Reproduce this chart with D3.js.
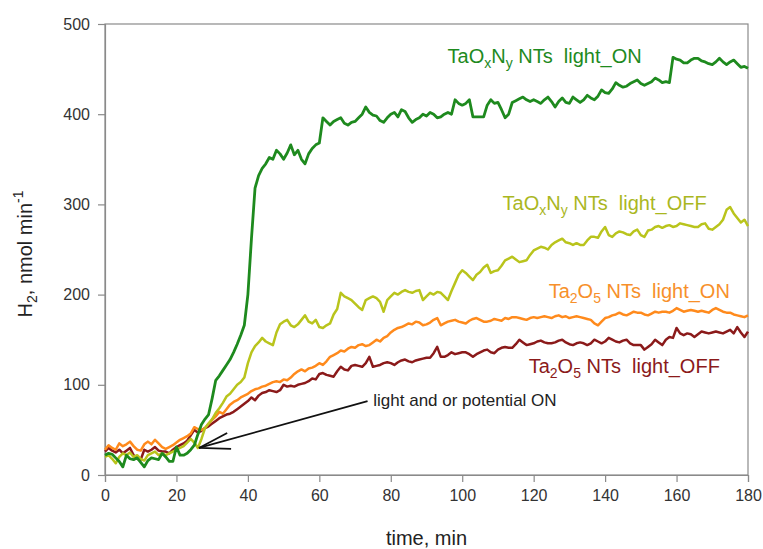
<!DOCTYPE html>
<html>
<head>
<meta charset="utf-8">
<script src="https://d3js.org/d3.v7.min.js"></script>
<style>
  body { margin: 0; background: #fff; }
  text { font-family: Arial, "Liberation Sans", sans-serif; }
</style>
</head>
<body>
<svg id="chart" width="763" height="549"></svg>
<script>
// time axis, one reading per minute
const minutes = d3.range(0, 181);

const xTicks = [0, 20, 40, 60, 80, 100, 120, 140, 160, 180];
const yTicks = [0, 100, 200, 300, 400, 500];

// TaOxNy NTs light_ON
const taoxnyOn = [
  22,24,23,19,15,9,22,18,17,19,
  14,9,16,19,18,17,24,20,15,15,
  31,22,22,24,28,33,45,56,62,67,
  85,105,110,116,122,128,136,145,155,166,
  200,262,318,332,340,345,352,350,360,356,
  350,357,366,355,360,350,345,356,362,366,
  368,396,392,388,392,394,396,390,388,391,
  392,396,400,408,402,399,398,393,391,396,
  400,402,397,405,403,396,391,394,396,400,
  398,402,400,396,397,400,402,400,416,412,
  410,412,416,397,397,397,397,410,416,412,
  413,405,396,400,413,415,417,419,416,414,
  416,414,412,416,419,414,408,414,418,413,
  412,419,416,413,416,421,418,416,420,427,
  424,423,428,435,432,430,431,434,436,438,
  434,432,434,436,440,438,435,436,435,463,
  461,460,457,457,460,462,462,459,458,456,
  455,458,462,458,455,458,460,456,452,453,451
];

// TaOxNy NTs light_OFF
const taoxnyOff = [
  20,22,18,13,20,24,22,25,20,22,
  18,16,22,24,26,22,24,22,24,26,
  28,30,32,36,40,36,30,40,52,57,
  62,69,74,80,87,90,95,100,103,108,
  124,136,143,147,152,148,146,144,158,167,
  170,172,166,164,167,172,177,170,168,172,
  164,163,166,168,178,184,202,198,196,194,
  190,186,183,194,196,198,196,192,181,194,
  198,202,200,203,205,203,202,204,205,194,
  198,202,200,203,202,198,194,204,213,222,
  227,224,220,216,222,225,230,233,224,226,
  227,232,238,240,242,239,236,237,238,244,
  249,251,253,252,250,255,258,260,262,258,
  257,255,257,255,255,260,264,264,263,270,
  275,266,264,268,270,269,267,266,270,272,
  266,264,271,272,275,276,274,276,277,275,
  276,279,278,277,276,275,275,278,279,273,
  272,275,278,283,294,297,290,285,280,283,276
];

// Ta2O5 NTs light_ON
const ta2o5On = [
  28,33,30,28,35,32,34,37,32,28,
  27,34,37,34,39,35,31,29,31,33,
  36,39,41,43,46,53,51,50,52,57,
  61,65,70,68,73,78,81,83,86,88,
  90,93,95,96,98,99,101,103,104,103,
  106,105,108,112,115,117,115,118,119,121,
  124,122,126,131,133,135,138,137,140,142,
  141,144,145,143,144,147,150,148,152,154,
  158,161,163,164,166,168,167,170,169,166,
  167,169,172,174,166,168,170,171,172,170,
  169,168,171,173,174,172,170,170,171,173,
  172,171,174,173,175,175,174,173,172,174,
  175,174,175,176,175,174,176,177,175,176,
  174,175,176,175,174,173,172,168,166,170,
  174,175,177,178,180,178,177,179,181,180,
  180,178,177,179,181,180,181,181,180,182,
  185,183,181,182,183,182,181,182,181,180,
  183,185,183,181,180,180,178,177,176,175,177
];

// Ta2O5 NTs light_OFF
const ta2o5Off = [
  26,30,27,25,28,24,27,30,22,18,
  17,28,26,28,31,27,26,26,24,28,
  31,33,35,38,44,50,47,49,52,54,
  57,60,63,65,67,68,70,73,76,79,
  82,86,83,88,91,92,94,93,92,94,
  100,98,99,98,100,101,102,104,107,106,
  112,113,111,110,109,115,120,117,116,121,
  122,121,120,124,131,120,121,122,124,125,
  124,122,125,127,128,126,125,127,128,129,
  130,130,135,142,131,131,133,136,134,135,
  136,136,134,131,134,136,138,139,136,135,
  139,141,142,141,141,145,150,147,144,145,
  146,148,149,147,146,146,147,149,150,147,
  145,144,146,147,146,144,146,150,148,146,
  148,152,150,148,147,149,150,146,144,144,
  144,139,142,145,150,147,144,150,153,152,
  163,157,155,157,156,153,156,159,158,157,
  158,159,158,157,159,161,157,164,158,153,159
];

const series = [
  { name: "Ta2O5 light_OFF", values: ta2o5Off, color: "#8b1a1a", width: 2.5 },
  { name: "Ta2O5 light_ON", values: ta2o5On, color: "#ff8a1c", width: 2.5 },
  { name: "TaOxNy light_OFF", values: taoxnyOff, color: "#b9c41c", width: 2.5 },
  { name: "TaOxNy light_ON", values: taoxnyOn, color: "#1e8a1e", width: 2.8 }
];

const svg = d3.select("#chart");
const margin = { left: 105, top: 24, right: 15, bottom: 74 };
const w = 763 - margin.left - margin.right;
const h = 549 - margin.top - margin.bottom;

const x = d3.scaleLinear().domain([0, 180]).range([0, w]);
const y = d3.scaleLinear().domain([0, 500]).range([h, 0]);

const g = svg.append("g")
  .attr("transform", "translate(" + margin.left + "," + margin.top + ")");

// frame
g.append("rect")
  .attr("x", 0).attr("y", 0)
  .attr("width", w).attr("height", h)
  .attr("fill", "none")
  .attr("stroke", "#8a8a8a")
  .attr("stroke-width", 1.2);

// axes
const xAxis = g.append("g")
  .attr("transform", "translate(0," + h + ")")
  .call(d3.axisBottom(x).tickValues(xTicks).tickSizeOuter(0).tickSize(7).tickPadding(8));
const yAxis = g.append("g")
  .call(d3.axisLeft(y).tickValues(yTicks).tickSizeOuter(0).tickSize(7).tickPadding(8));

[xAxis, yAxis].forEach(a => {
  a.select(".domain").attr("stroke", "#8a8a8a").attr("stroke-width", 1.2);
  a.selectAll(".tick line").attr("stroke", "#8a8a8a").attr("stroke-width", 1.2);
  a.selectAll(".tick text")
    .attr("fill", "#333")
    .style("font-size", "16px")
    .style("font-family", "Arial, 'Liberation Sans', sans-serif");
});

// lines
const line = d3.line()
  .x((d, i) => x(minutes[i]))
  .y(d => y(d));

g.selectAll("path.series")
  .data(series)
  .enter().append("path")
  .attr("class", "series")
  .attr("d", d => line(d.values))
  .attr("fill", "none")
  .attr("stroke", d => d.color)
  .attr("stroke-width", d => d.width)
  .attr("stroke-linejoin", "round");

// series labels with subscripts
function label(px, py, color, parts) {
  const t = g.append("text")
    .attr("x", x(px)).attr("y", y(py))
    .attr("fill", color)
    .style("font-size", "20px");
  let shifted = false;
  parts.forEach(p => {
    if (typeof p === "string") {
      t.append("tspan").attr("dy", shifted ? -5 : 0).text(p);
      shifted = false;
    } else {
      t.append("tspan").attr("dy", 5).style("font-size", "14px").text(p.s);
      shifted = true;
    }
  });
}
label(95.9, 457, "#1e8a1e", ["TaO", { s: "x" }, "N", { s: "y" }, " NTs\u00a0\u00a0light_ON"]);
label(111.3, 294, "#aab71f", ["TaO", { s: "x" }, "N", { s: "y" }, " NTs\u00a0\u00a0light_OFF"]);
label(124.2, 196, "#f7902a", ["Ta", { s: "2" }, "O", { s: "5" }, " NTs\u00a0\u00a0light_ON"]);
label(118.6, 113, "#8b1a1a", ["Ta", { s: "2" }, "O", { s: "5" }, " NTs\u00a0\u00a0light_OFF"]);

// annotation arrow
const arrowTip = [26.3, 30];
const arrowStart = [73.5, 82];
const barbA = [34.2, 46.6];
const barbB = [35.3, 29];
[arrowStart, barbA, barbB].forEach(p => {
  g.append("line")
    .attr("x1", x(p[0])).attr("y1", y(p[1]))
    .attr("x2", x(arrowTip[0])).attr("y2", y(arrowTip[1]))
    .attr("stroke", "#111").attr("stroke-width", 1.8);
});
g.append("text")
  .attr("x", x(75.1)).attr("y", y(76))
  .attr("fill", "#222")
  .style("font-size", "17px")
  .text("light and or potential ON");

// axis titles
svg.append("text")
  .attr("x", margin.left + w / 2).attr("y", 545)
  .attr("text-anchor", "middle")
  .attr("fill", "#222")
  .style("font-size", "20px")
  .text("time, min");

const yt = svg.append("text")
  .attr("transform", "translate(32," + (margin.top + 230) + ") rotate(-90)")
  .attr("text-anchor", "middle")
  .attr("fill", "#222")
  .style("font-size", "20px");
yt.append("tspan").text("H");
yt.append("tspan").attr("dy", 5).style("font-size", "14px").text("2");
yt.append("tspan").attr("dy", -5).text(", nmol min");
yt.append("tspan").attr("dy", -9).style("font-size", "14px").text("-1");
</script>
</body>
</html>
